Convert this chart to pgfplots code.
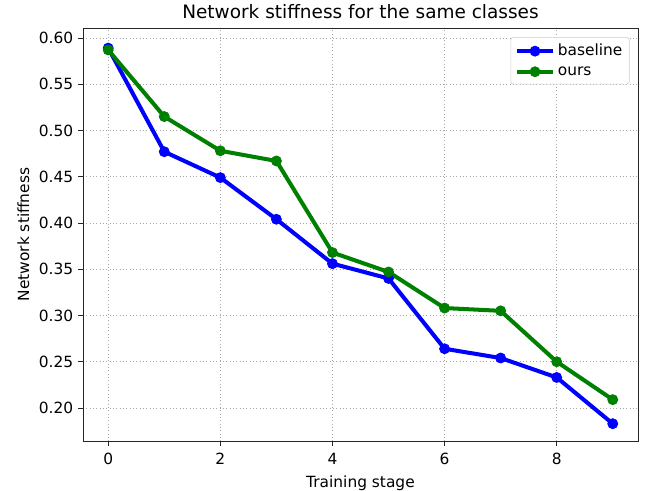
\documentclass[border=0pt]{standalone}
\usepackage{pgfplots}
\pgfplotsset{compat=1.18}
\usepackage{fontspec}
\setmainfont{DejaVu Sans}
\definecolor{mplgreen}{rgb}{0,0.5,0}
\begin{document}
\begin{tikzpicture}
\useasboundingbox (-59.76pt,-36pt) rectangle (404.64pt,317.52pt);
\begin{axis}[
  at={(0,0)}, anchor=south west,
  scale only axis, width=399.6pt, height=297.4pt,
  xmin=-0.45, xmax=9.45, ymin=0.1643, ymax=0.6108,
  xtick={0,2,4,6,8},
  ytick={0.20,0.25,0.30,0.35,0.40,0.45,0.50,0.55,0.60},
  /pgf/number format/assume math mode=true,
  yticklabel style={/pgf/number format/fixed, /pgf/number format/fixed zerofill, /pgf/number format/precision=2},
  ticklabel style={font=\fontsize{11.1}{13}\selectfont},
  xticklabel style={yshift=-1.5pt},
  tick align=outside, tick pos=left,
  major tick length=3.5pt,
  tick style={black!85, line width=0.6pt},
  axis line style={black!85, line width=0.6pt},
  grid=major, grid style={gray!70, dotted, line width=0.6pt},
  title={Network stiffness for the same classes},
  title style={font=\fontsize{13.3}{15}\selectfont, yshift=-3pt},
  xlabel={Training stage}, ylabel={Network stiffness},
  xlabel style={yshift=-1pt},
  label style={font=\fontsize{11.1}{13}\selectfont},
  legend style={at={(0.985,0.978)}, anchor=north east, draw=black!20, rounded corners=2pt,
    font=\fontsize{11.1}{13}\selectfont, row sep=2pt, inner xsep=3pt, inner ysep=3pt},
  legend cell align=left,
  legend image code/.code={\draw[#1] (0pt,0pt) -- (26pt,0pt); \draw[#1, mark repeat=1] plot coordinates {(13pt,0pt)};},
]
\addplot[blue, line width=2.9pt, mark=*, mark size=3.6pt, mark options={solid, line width=0.6pt}] coordinates {
(0,0.589) (1,0.477) (2,0.449) (3,0.404) (4,0.356) (5,0.340) (6,0.264) (7,0.254) (8,0.233) (9,0.183)};
\addlegendentry{baseline}
\addplot[mplgreen, line width=2.9pt, mark=*, mark size=3.6pt, mark options={solid, line width=0.6pt}] coordinates {
(0,0.587) (1,0.515) (2,0.478) (3,0.467) (4,0.368) (5,0.347) (6,0.308) (7,0.305) (8,0.250) (9,0.209)};
\addlegendentry{ours}
\end{axis}
\end{tikzpicture}
\end{document}
